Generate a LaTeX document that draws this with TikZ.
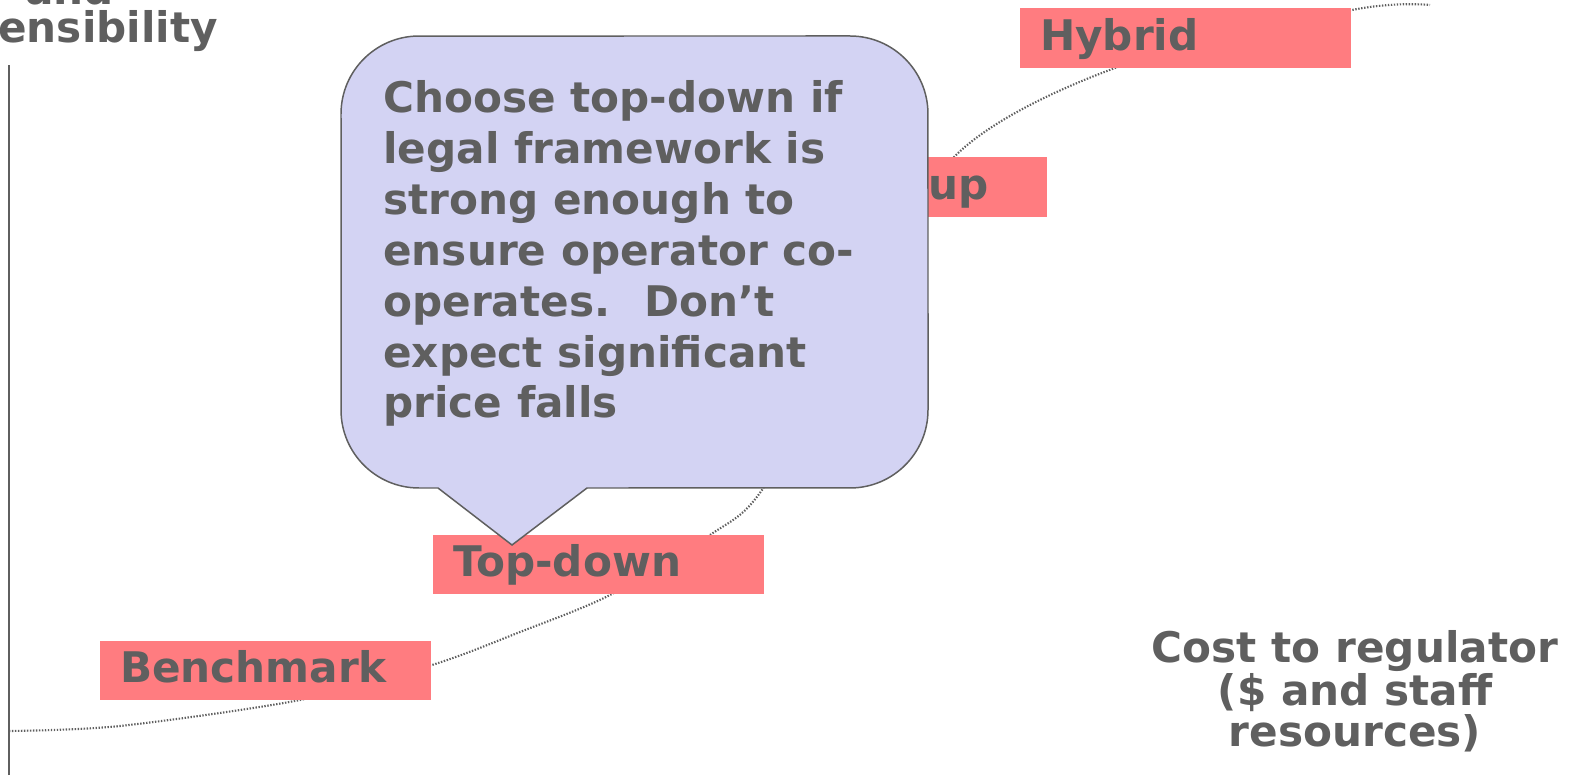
\documentclass[tikz,border=0pt]{standalone}
\usepackage{fontspec}
\setmainfont{DejaVu Sans}
\definecolor{txtgrau}{HTML}{5F5F5F}
\definecolor{kastenrot}{HTML}{FF7C80}
\definecolor{blasenblau}{HTML}{D3D3F3}
\begin{document}
\begin{tikzpicture}[x=0.02cm,y=0.02cm,
  kasten/.style={fill=kastenrot,text=txtgrau,font=\bfseries\fontsize{24}{29}\selectfont,
    text width=5.82cm,inner xsep=0.4cm,inner ysep=0pt,align=left,
    minimum height=1.2cm,text height=18pt,text depth=3.8pt},
  kurve/.style={txtgrau,line width=1.2pt,dash pattern=on 0.8pt off 0.9pt},
  schrift/.style={text=txtgrau,inner sep=0pt,font=\bfseries\fontsize{24}{29}\selectfont}]
\useasboundingbox (0,0) rectangle (1573,775);
\clip (0,0) rectangle (1573,775);
% Achse (senkrecht, links)
\draw[txtgrau,line width=0.85pt] (9,0) -- (9,710);
% Achsenbeschriftung oben (abgeschnitten)
\node[schrift,anchor=base west] (yund) at (25,770) {and};
\node[schrift,anchor=base west] (ytitel) at (-2,732) {ensibility};
% gepunktete Kurve
\draw[kurve] plot[smooth] coordinates {(9,44) (120,49) (300,75) (432,110) (520,143)
  (610,180) (710,240) (762,285) (850,440) (954,618) (1115,707) (1352,765) (1430,770)};
% Kaesten auf der Kurve
\node[kasten] (bench) at (265.5,104.5) {Benchmark};
\node[kasten] (bottomup) at (882,588) {Bottom-up};
\node[kasten] (hybrid) at (1185.5,737) {Hybrid};
\node[kasten] (topdown) at (598.5,210.5) {Top-down};
% Sprechblase mit Spitze nach unten
\coordinate (tip) at (512,230);
\filldraw[fill=blasenblau,draw=txtgrau,line width=0.85pt]
  (tip) -- (438,287) -- (419,287) arc[start angle=270,end angle=180,radius=1.56cm]
  -- (341,661) arc[start angle=180,end angle=90,radius=1.56cm]
  -- (850,739) arc[start angle=90,end angle=0,radius=1.56cm]
  -- (928,365) arc[start angle=0,end angle=-90,radius=1.56cm]
  -- (587,287) -- cycle;
\node[schrift,anchor=base west,align=left] (blasentext) at (383,357)
  {Choose top-down if\\legal framework is\\strong enough to\\ensure operator co-\\operates.~ Don’t\\expect significant\\price falls};
% Beschriftung der x-Achse
\node[schrift,anchor=base,align=center,font=\bfseries\fontsize{24}{23.3}\selectfont] (kosten) at (1355,29)
  {Cost to regulator\\(\$ and staff\\resources)};
\end{tikzpicture}
\end{document}
